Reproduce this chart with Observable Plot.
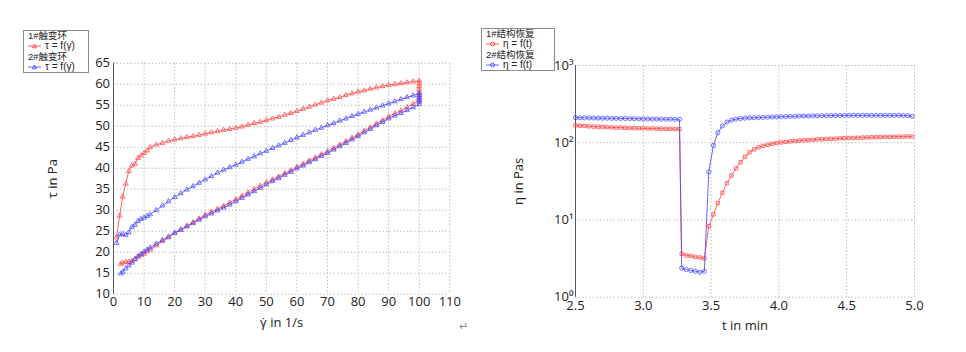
<!DOCTYPE html>
<html><head><meta charset="utf-8">
<script src="https://cdn.jsdelivr.net/npm/d3@7"></script>
<script src="https://cdn.jsdelivr.net/npm/@observablehq/plot@0.6"></script>
<style>
body{margin:0;background:#fff;}
#root{position:relative;width:966px;height:352px;overflow:hidden;background:#fff;font-family:"Open Sans",sans-serif;}
.plot{position:absolute;top:0;}
.legend{position:absolute;background:#fff;border:1px solid #8a8a8a;color:#222;box-sizing:border-box;padding:0 0 0 4px;z-index:5;}
.legend .row{height:10.3px;line-height:10.3px;display:flex;align-items:center;white-space:nowrap;}
.legend .name{font-family:"Liberation Sans","Noto Sans CJK SC",sans-serif;font-size:9.5px;}
.legend .fn{font-family:"Liberation Sans",sans-serif;font-size:10px;}
.legend svg{margin-right:4px;flex:none;}
.mark{position:absolute;font-size:11px;color:#888;}
</style></head><body><div id="root"></div>
<script>
// ---------- Left chart: thixotropic loop ----------
const shearTicks = [0,10,20,30,40,50,60,70,80,90,100,110];
const tauTicks = [10,15,20,25,30,35,40,45,50,55,60,65];
const shearUp = [1,2,3,4,5,6,7,8,9,10,11,12,14,16,18,20,22,24,26,28,30,32,34,36,38,40,42,44,46,48,50,52,54,56,58,60,62,64,66,68,70,72,74,76,78,80,82,84,86,88,90,92,94,96,98,100];
const shearDown = [100,98,96,94,92,90,88,86,84,82,80,78,76,74,72,70,68,66,64,62,60,58,56,54,52,50,48,46,44,42,40,38,36,34,32,30,28,26,24,22,20,18,16,14,12,11,10,9,8,7,6,5,4,3,2.4];
const tauUp1 = [23.5,28.7,33.2,36.3,39.3,40.6,41.0,42.4,43.0,43.6,44.2,45.0,45.6,46.0,46.5,46.8,47.1,47.4,47.6,47.9,48.2,48.5,48.8,49.1,49.3,49.6,49.9,50.3,50.7,51.0,51.4,51.8,52.2,52.7,53.1,53.6,54.1,54.6,55.1,55.6,56.1,56.5,56.9,57.4,57.8,58.2,58.5,58.9,59.2,59.5,59.8,60.0,60.2,60.4,60.6,60.8];
const tauHold1 = [60.2,59.5,58.8,58.1,57.4,56.7];
const tauDown1 = [56.1,55.3,54.5,53.7,53.0,52.3,51.4,50.6,49.7,48.9,48.0,47.2,46.4,45.6,44.8,44.0,43.3,42.5,41.8,41.0,40.3,39.5,38.8,38.0,37.3,36.6,35.8,35.0,34.2,33.4,32.6,31.8,31.0,30.3,29.6,28.9,28.0,27.1,26.3,25.4,24.6,23.5,22.6,21.6,20.6,20.2,19.6,19.3,18.9,18.4,17.9,17.7,17.7,17.5,17.2];
const tauUp2 = [22.2,24.2,24.3,24.1,24.7,26.0,26.5,27.4,27.9,28.2,28.6,29.0,30.0,31.1,32.1,33.1,34.0,34.9,35.7,36.5,37.3,38.1,38.9,39.6,40.2,40.8,41.5,42.2,42.8,43.5,44.1,44.8,45.4,46.0,46.7,47.3,47.9,48.5,49.1,49.6,50.2,50.7,51.3,51.8,52.4,52.9,53.4,53.9,54.4,54.9,55.4,55.9,56.4,56.9,57.3,57.8];
const tauHold2 = [57.3,56.8,56.3,55.8];
const tauDown2 = [55.2,54.5,53.8,53.1,52.5,51.8,51.0,50.2,49.3,48.5,47.6,46.8,46.0,45.2,44.4,43.6,42.9,42.1,41.4,40.6,39.9,39.1,38.4,37.6,36.9,36.1,35.3,34.5,33.7,32.9,32.1,31.3,30.6,29.9,29.2,28.5,27.7,26.9,26.1,25.3,24.6,23.7,22.9,22.0,21.1,20.6,20.1,19.6,19.0,18.3,17.5,16.8,16.1,15.3,14.9];

// ---------- Right chart: structure recovery ----------
const timeTicks = [2.5,3.0,3.5,4.0,4.5,5.0];
const etaTicks = [1,10,100,1000];
const times = [2.500,2.533,2.567,2.600,2.633,2.667,2.700,2.733,2.767,2.800,2.833,2.867,2.900,2.933,2.967,3.000,3.033,3.067,3.100,3.133,3.167,3.200,3.233,3.267,
  3.283,3.317,3.350,3.383,3.417,3.450,
  3.483,3.517,3.550,3.583,3.617,3.650,3.683,3.717,3.750,3.783,3.817,3.850,3.883,3.917,3.950,3.983,4.017,4.050,4.083,4.117,4.150,4.183,4.217,4.250,4.283,4.317,4.350,4.383,4.417,4.450,4.483,4.517,4.550,4.583,4.617,4.650,4.683,4.717,4.750,4.783,4.817,4.850,4.883,4.917,4.950,4.983];
const eta1 = [168,166,165,163,162,161,160,159,158,157,157,156,155,155,154,154,153,153,152,152,151,151,150,150,
  3.65,3.47,3.42,3.33,3.27,3.17,
  8.3,11.8,16.5,22.5,30,37.5,46.5,56,66,75,82,87,91,94,97,99,101,102.5,104,105,106.5,107.5,108.5,109.5,110.5,111,112,112.5,113,114,114.5,115,115.5,116,116.5,117,117.5,118,118.5,119,119,119.5,120,120,120.5,120.5];
const eta2 = [211,211,210,210,209,209,208,208,207,207,206,206,205,205,204,204,203,203,203,202,202,202,201,201,
  2.38,2.28,2.22,2.17,2.11,2.16,
  42,92,135,165,185,196,202,206,208,210,211,212,213,214,215,216,217,218,219,220,221,222,222,223,223,224,224,225,225,225,226,226,226,226,226,226,226,226,226,226,226,226,226,225,224,220];

const red = "#ff4848", blue = "#4a4aff";
const grid = {stroke:"#bdbdbd", strokeDasharray:"1.5,2", strokeOpacity:1, strokeWidth:1};
const style = {fontFamily:"'Open Sans', sans-serif", fontSize:"13px", color:"#222", background:"transparent", overflow:"visible"};

function loop(up, hold, down) {
  const xmax = shearUp[shearUp.length - 1];
  return [
    ...shearUp.map((x, i) => ({x, y: up[i]})),
    ...hold.map(y => ({x: xmax, y})),
    ...shearDown.map((x, i) => ({x, y: down[i]}))
  ];
}
const loop1 = loop(tauUp1, tauHold1, tauDown1);
const loop2 = loop(tauUp2, tauHold2, tauDown2);

const left = Plot.plot({
  width: 480, height: 352,
  marginLeft: 113, marginRight: 30.7, marginTop: 62.7, marginBottom: 58.3,
  style,
  x: {domain: [0, 110]},
  y: {domain: [10, 65]},
  marks: [
    Plot.gridX(shearTicks, grid),
    Plot.gridY(tauTicks, grid),
    Plot.axisX(shearTicks, {tickSize: 0, tickPadding: 2.5, label: "\u03B3\u0307 in 1/s", labelAnchor: "center", labelOffset: 33, labelArrow: false}),
    Plot.axisY(tauTicks, {tickSize: 0, tickPadding: 3.5, label: "\u03C4 in Pa", labelAnchor: "center", labelOffset: 66, labelArrow: false}),
    Plot.ruleX([0], {stroke: "#555", strokeWidth: 1}),
    Plot.line(loop1, {x: "x", y: "y", stroke: red, strokeWidth: 1, strokeOpacity: 0.85}),
    Plot.dot(loop1, {x: "x", y: "y", symbol: "triangle", r: 1.8, stroke: red, strokeWidth: 0.9, strokeOpacity: 0.85}),
    Plot.line(loop2, {x: "x", y: "y", stroke: blue, strokeWidth: 1, strokeOpacity: 0.85}),
    Plot.dot(loop2, {x: "x", y: "y", symbol: "triangle", r: 1.8, stroke: blue, strokeWidth: 0.9, strokeOpacity: 0.85})
  ]
});
left.classList.add("plot");
left.style.left = "0px";

const sup = {0: "\u2070", 1: "\u00B9", 2: "\u00B2", 3: "\u00B3"};
const rec1 = times.map((t, i) => ({t, v: eta1[i]}));
const rec2 = times.map((t, i) => ({t, v: eta2[i]}));
const right = Plot.plot({
  width: 486, height: 352,
  marginLeft: 95, marginRight: 52, marginTop: 65, marginBottom: 55.3,
  style,
  x: {domain: [2.5, 5.0]},
  y: {type: "log", domain: [1, 1000]},
  marks: [
    Plot.gridX(timeTicks, grid),
    Plot.gridY(etaTicks, grid),
    Plot.axisX(timeTicks, {tickSize: 0, tickPadding: 3.5, tickFormat: d => d.toFixed(1), label: "t in min", labelAnchor: "center", labelOffset: 33, labelArrow: false}),
    Plot.axisY(etaTicks, {tickSize: 0, tickPadding: 2, tickFormat: d => "10" + sup[Math.round(Math.log10(d))], label: "\u03B7 in Pas", labelAnchor: "center", labelOffset: 62, labelArrow: false}),
    Plot.ruleX([2.5], {stroke: "#555", strokeWidth: 1}),
    Plot.line(rec1, {x: "t", y: "v", stroke: red, strokeWidth: 1, strokeOpacity: 0.85}),
    Plot.dot(rec1, {x: "t", y: "v", symbol: "square", r: 1.9, stroke: red, strokeWidth: 0.9, strokeOpacity: 0.85}),
    Plot.line(rec2, {x: "t", y: "v", stroke: blue, strokeWidth: 1, strokeOpacity: 0.85}),
    Plot.dot(rec2, {x: "t", y: "v", symbol: "circle", r: 2.1, stroke: blue, strokeWidth: 0.9, strokeOpacity: 0.85})
  ]
});
right.classList.add("plot");
right.style.left = "480px";

const root = document.getElementById("root");
root.appendChild(left);
root.appendChild(right);

// ---------- legends ----------
function swatch(color, kind) {
  const m = kind === "triangle" ? `<path d="M6.5,2 L8.6,5.8 L4.4,5.8 Z" fill="none" stroke="${color}" stroke-width="0.9"/>`
          : `<circle cx="6.5" cy="4" r="2" fill="none" stroke="${color}" stroke-width="0.9"/>`;
  return `<svg width="13" height="8"><line x1="0" y1="4" x2="13" y2="4" stroke="${color}" stroke-width="1" stroke-opacity="0.85"/>${m}</svg>`;
}
const legendLeft = [["1#触变环", red], ["2#触变环", blue]];
const legendRight = [["1#结构恢复", red], ["2#结构恢复", blue]];
function legend(items, label, kind, x, y, w, h) {
  const d = document.createElement("div");
  d.className = "legend";
  Object.assign(d.style, {left: x + "px", top: y + "px", width: w + "px", height: h + "px"});
  d.innerHTML = items.map(([name, c]) =>
    `<div class="row name">${name}</div><div class="row">${swatch(c, kind)}<span class="fn">${label}</span></div>`).join("");
  root.appendChild(d);
}
legend(legendLeft, "\u03C4 = f(\u03B3\u0307)", "triangle", 23, 30, 66, 43);
legend(legendRight, "\u03B7 = f(t)", "circle", 481, 28, 74, 43);

const m = document.createElement("div");
m.className = "mark";
m.style.left = "459px"; m.style.top = "318px";
m.textContent = "\u21B5";
root.appendChild(m);
</script></body></html>
